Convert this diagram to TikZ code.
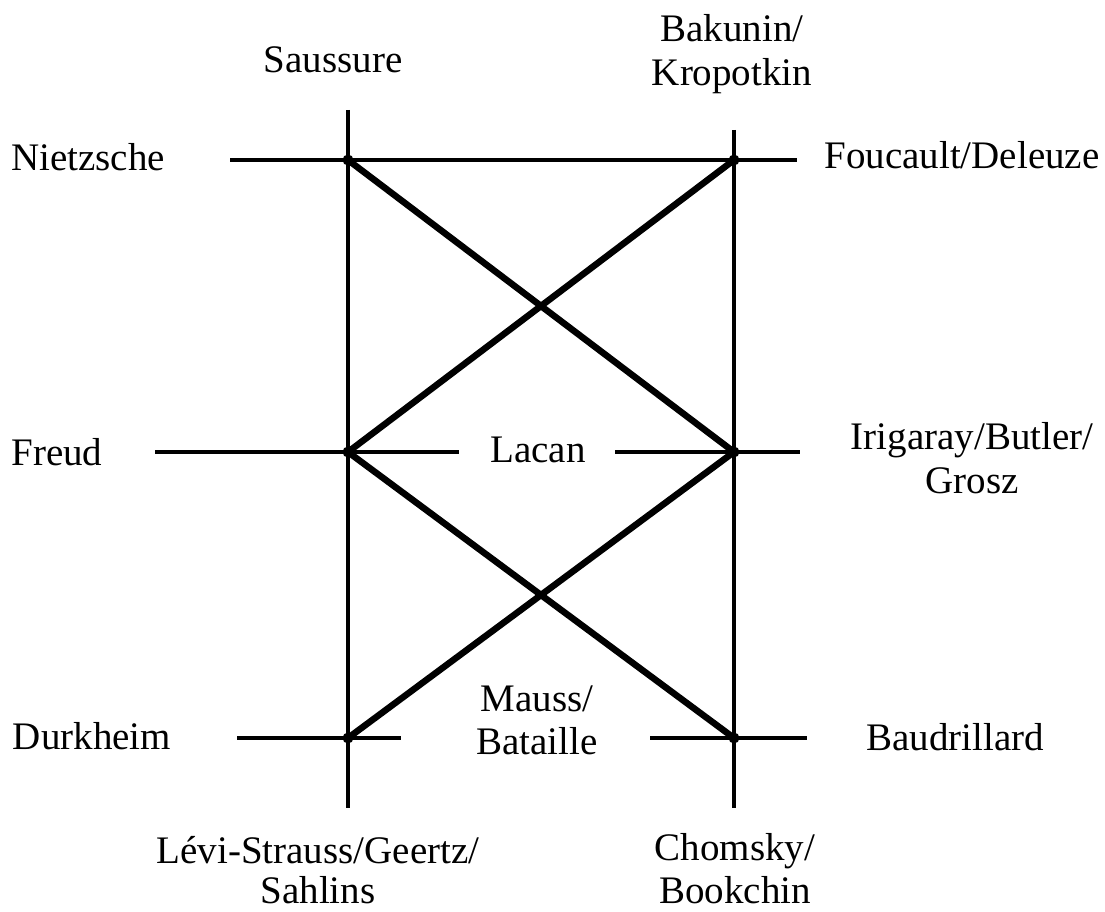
\documentclass[tikz,border=0pt]{standalone}
\usepackage{fontspec}
\setmainfont{Liberation Serif}
\begin{document}
\begin{tikzpicture}[x=1pt,y=-1pt,
  thin line/.style={line width=3.2pt},
  thick line/.style={line width=6.5pt},
  lbl/.style={inner sep=0pt, font=\fontsize{39}{44}\selectfont, align=center},
  junction/.style={circle, fill=black, inner sep=0pt, minimum size=11pt}]
\useasboundingbox (0,0) rectangle (1105,912);
% junction coordinates
\coordinate (LT) at (348,160);
\coordinate (RT) at (734,160);
\coordinate (LM) at (348,452);
\coordinate (RM) at (734,452);
\coordinate (LB) at (348,738);
\coordinate (RB) at (734,738);
% vertical line ends
\coordinate (Ltop) at (348,110);
\coordinate (Lbot) at (348,808);
\coordinate (Rtop) at (734,130);
\coordinate (Rbot) at (734,808);
% horizontal line ends
\coordinate (Tl) at (230,160);
\coordinate (Tr) at (797,160);
\coordinate (Ml) at (155,452);
\coordinate (Mm1) at (459,452);
\coordinate (Mm2) at (615,452);
\coordinate (Mr) at (800,452);
\coordinate (Bl) at (237,738);
\coordinate (Bm1) at (401,738);
\coordinate (Bm2) at (650,738);
\coordinate (Br) at (807,738);
% labels
\node[lbl] (saussure) at (333,60) {Saussure};
\node[lbl] (bakunin) at (732,54) {Bakunin/\\Kropotkin};
\node[lbl] (nietzsche) at (88,157) {Nietzsche};
\node[lbl] (foucault) at (962,155) {Foucault/Deleuze};
\node[lbl] (freud) at (57,452) {Freud};
\node[lbl] (lacan) at (538,450) {Lacan};
\node[lbl] (irigaray) at (972,458) {Irigaray/Butler/\\Grosz};
\node[lbl] (durkheim) at (92,736) {Durkheim};
\node[lbl, font=\fontsize{39}{43}\selectfont] (mauss) at (537,720.5) {Mauss/\\Bataille};
\node[lbl] (baudrillard) at (955,737) {Baudrillard};
\node[lbl, font=\fontsize{39}{40}\selectfont] (levi) at (318,870) {Lévi-Strauss/Geertz/\\Sahlins};
\node[lbl, font=\fontsize{39}{43}\selectfont] (chomsky) at (735,869) {Chomsky/\\Bookchin};
% thin lines
\draw[thin line] (Ltop) -- (Lbot);
\draw[thin line] (Rtop) -- (Rbot);
\draw[thin line] (Tl) -- (Tr);
\draw[thin line] (Ml) -- (Mm1);
\draw[thin line] (Mm2) -- (Mr);
\draw[thin line] (Bl) -- (Bm1);
\draw[thin line] (Bm2) -- (Br);
% thick diagonals
\draw[thick line] (LT) -- (RM);
\draw[thick line] (RT) -- (LM);
\draw[thick line] (LM) -- (RB);
\draw[thick line] (RM) -- (LB);
% junction dots
\foreach \p in {LT,RT,LM,RM,LB,RB} \node[junction] at (\p) {};
\end{tikzpicture}
\end{document}
